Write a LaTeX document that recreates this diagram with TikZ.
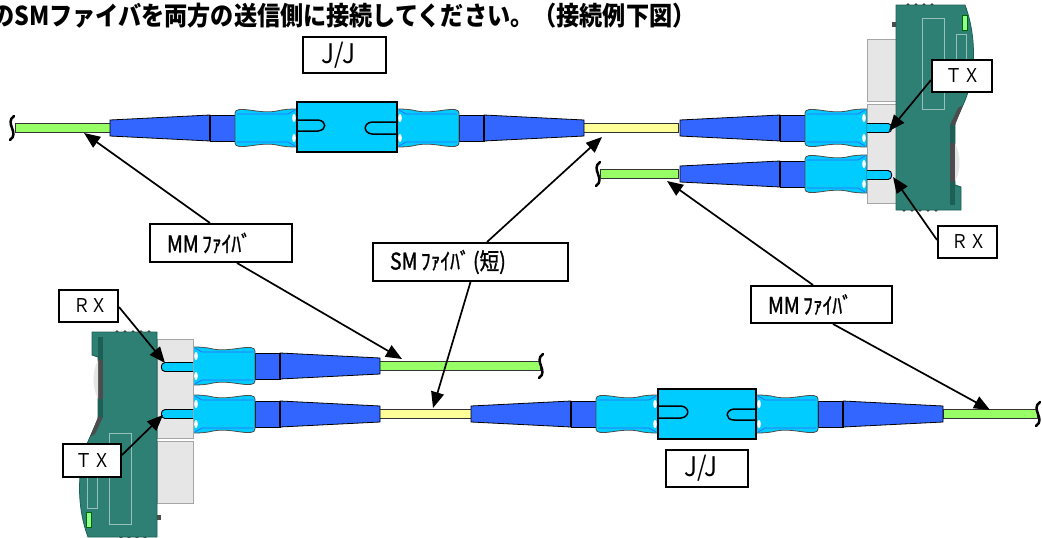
\documentclass[tikz,border=0pt]{standalone}
\usepackage{fontspec}
\usetikzlibrary{arrows.meta,calc}
\newfontfamily\jp{Noto Sans CJK JP}
\newfontfamily\jpc[FakeStretch=0.9]{Noto Sans CJK JP}
\newfontfamily\jpb[FakeStretch=0.85,FakeBold=1.2]{Noto Sans CJK JP}
\newfontfamily\jpt[FakeStretch=0.89]{Noto Sans CJK JP}
\definecolor{bootblue}{RGB}{51,102,255}
\definecolor{bodycyan}{RGB}{0,204,255}
\definecolor{fibgreen}{RGB}{153,255,102}
\definecolor{fibyellow}{RGB}{255,255,153}
\definecolor{devteal}{RGB}{45,128,115}
\definecolor{devdark}{RGB}{30,95,85}
\definecolor{greyfill}{RGB}{230,230,230}

\newcommand\plugshape{%
  \draw[thinline, fill=bootblue] (-187,-8) -- (-87,-13) -- (-87,13) -- (-187,8) -- cycle;
  \draw[thinline, fill=bootblue] (-87,-13) rectangle (-62,13);
  \draw[line width=1.1pt] (-87,-13) -- (-87,13);
  \draw[bodyoutline, fill=bodycyan] (-62,-15) .. controls (-62,-19) and (-56,-19) .. (-48,-18)
     .. controls (-40,-17) and (-30,-15) .. (-20,-17) .. controls (-12,-19) and (-5,-19) .. (0,-19)
     -- (0,19) .. controls (-5,19) and (-12,19) .. (-20,17) .. controls (-30,15) and (-40,17) .. (-48,18)
     .. controls (-56,19) and (-62,19) .. (-62,15) -- cycle;
  \draw[blueline] (-60,-14) -- (-9,-14) -- (-2,-18);
  \draw[blueline] (-60,14) -- (-9,14) -- (-2,18);
  \fill[white] (-3,-10) ellipse (1.8pt and 4pt);
  \fill[white] (-3,10) ellipse (1.8pt and 4pt);
}
\newcommand\fiber[4]{\draw[fibline,fill=#4] (#1,#3-4.5) rectangle (#2,#3+4.5);}
\newcommand\squig[2]{\draw[squigline] (#1+2,#2-12) .. controls (#1-8,#2-5) and (#1+8,#2+5) .. (#1-2,#2+12);}
\newcommand\devdraw[1]{%
  \draw[greyline, fill=greyfill] (-#1,34) rectangle (0,96);
  \draw[greyline, fill=greyfill] (-#1,99) rectangle (0,198);
  \fill[gray!60!black] (-4,17) rectangle (0,22);
  \foreach \bx in {12,20,28,36}{\fill[gray!50!black] (\bx,0) circle (1.8pt);}
  \foreach \bx in {8,16,24,32,40}{\fill[gray!50!black] (\bx,205) circle (1.8pt);}
  \draw[line width=0.8pt, draw=devdark, fill=devteal] (0,0) -- (69,0) .. controls (82,35) and (79,75) .. (67,100)
     -- (59,118) -- (59,180) -- (65,182) -- (65,205) -- (0,205) -- cycle;
  \fill[devdark] (54,120) rectangle (59,200);
  \fill[gray!60!black] (54,138) rectangle (59,177);
  \fill[gray!60!black] (54,120) -- (59,120) -- (67,100) -- (62,103) -- cycle;
  \fill[gray!20] (59,138) .. controls (65,150) and (65,165) .. (59,177) -- cycle;
  \draw[devteal!50!white, line width=0.8pt] (26,13) rectangle (48,104);
  \draw[devteal!50!white, line width=0.8pt] (60,29) rectangle (70,72);
  \draw[green!40!black, fill=green!45, line width=0.6pt] (66,10) rectangle (71,25);
  \foreach \py in {123,170}{%
    \draw[line width=0.9pt, fill=bodycyan] (-#1,\py-4.5) -- (-8,\py-4.5)
       .. controls (-3,\py-4.5) and (-3,\py+4.5) .. (-8,\py+4.5) -- (-#1,\py+4.5);
  }
}

\begin{document}
\begin{tikzpicture}[x=1pt,y=-1pt,
  thinline/.style={draw=black, line width=0.8pt},
  bodyoutline/.style={draw=gray!60!black, line width=0.8pt},
  blueline/.style={draw=bootblue, line width=0.7pt},
  fibline/.style={draw=black!80, line width=0.9pt},
  squigline/.style={draw=black, line width=2.5pt, line cap=round},
  greyline/.style={draw=gray!70, line width=0.8pt},
  lbox/.style={draw=black, line width=2pt, fill=white, inner sep=0pt},
  arr/.style={draw=black, line width=1.7pt, -{Triangle[length=16pt,width=13pt]}}]
\useasboundingbox (0,0) rectangle (1042,538);
\fill[white] (0,0) rectangle (1042,538);

% title
\node[anchor=base west, inner sep=0pt] (title) at (-9,25)
  {\jpt\bfseries\fontsize{26}{26}\selectfont のSMファイバを両方の送信側に接続してください。（接続例下図）};

% ---- top row (y=128)
\squig{12}{128}
\fiber{15}{110}{128}{fibgreen}
\fiber{583}{678}{128}{fibyellow}
\begin{scope}[shift={(297,128)}]\plugshape\end{scope}
\begin{scope}[shift={(397,128)},xscale=-1]\plugshape\end{scope}
\begin{scope}[shift={(867,128)}]\plugshape\end{scope}
\draw[line width=2pt, fill=bodycyan] (297,102) rectangle (397,152);
\draw[line width=1.5pt] (297,120) -- (318,120) .. controls (327,121) and (327,130) .. (318,131) -- (297,131);
\draw[line width=1.5pt] (397,122) -- (372,122) .. controls (363,123) and (363,133) .. (372,134) -- (397,134);

% ---- top-right lower (y=174)
\squig{598}{174}
\fiber{600}{678}{174}{fibgreen}
\begin{scope}[shift={(867,174)}]\plugshape\end{scope}

% top-right device
\begin{scope}[shift={(896,5)}]\devdraw{29}\end{scope}

% ---- bottom-left upper (y=366)
\fiber{379}{540}{366}{fibgreen}
\squig{541}{366}
\begin{scope}[shift={(193,366)},xscale=-1]\plugshape\end{scope}

% ---- bottom row (y=414)
\fiber{378}{471}{414}{fibyellow}
\fiber{943}{1037}{414}{fibgreen}
\squig{1038}{414}
\begin{scope}[shift={(193,414)},xscale=-1]\plugshape\end{scope}
\begin{scope}[shift={(658,414)}]\plugshape\end{scope}
\begin{scope}[shift={(756,414)},xscale=-1]\plugshape\end{scope}
\draw[line width=2pt, fill=bodycyan] (658,389) rectangle (756,439);
\draw[line width=1.5pt] (658,406) -- (681,406) .. controls (690,407) and (690,417) .. (681,418) -- (658,418);
\draw[line width=1.5pt] (756,409) -- (734,409) .. controls (725,410) and (725,420) .. (734,420) -- (756,420);

% bottom-left device (rotated)
\begin{scope}[shift={(157,537)},rotate=180]\devdraw{36}\end{scope}

% ---- label boxes
\node[lbox, minimum width=83pt, minimum height=36pt] (jj1) at (344.5,55)
  {\raisebox{-5pt}{\jpc\fontsize{27}{27}\selectfont J/J\hspace{12pt}}};
\node[lbox, minimum width=82pt, minimum height=37pt] (jj2) at (707,468.5)
  {\raisebox{-4pt}{\jpc\fontsize{27}{27}\selectfont J/J\hspace{12pt}}};
\node[lbox, minimum width=60pt, minimum height=32pt] (tx1) at (962,76)
  {\raisebox{-5pt}{\jpc\fontsize{19}{19}\selectfont ＴＸ\hspace{-2pt}}};
\node[lbox, minimum width=59pt, minimum height=32pt] (rx1) at (967.5,242)
  {\raisebox{-5pt}{\jpc\fontsize{19}{19}\selectfont \hspace{3pt}ＲＸ}};
\node[lbox, minimum width=59pt, minimum height=32pt] (rx2) at (88.5,306)
  {\raisebox{-5pt}{\jpc\fontsize{19}{19}\selectfont \hspace{5pt}ＲＸ}};
\node[lbox, minimum width=58pt, minimum height=33pt] (tx2) at (92,460.5)
  {\raisebox{-5pt}{\jpc\fontsize{19}{19}\selectfont \hspace{2pt}ＴＸ}};
\node[lbox, minimum width=142pt, minimum height=38pt, inner xsep=17pt, text width=108pt, align=left] (mmL) at (221,243)
  {\raisebox{-3pt}{\jpb\fontsize{23}{23}\selectfont MM ﾌｧｲﾊﾞ}};
\node[lbox, minimum width=195pt, minimum height=38pt, inner xsep=17pt, text width=161pt, align=left] (sm) at (470.5,262)
  {\raisebox{-3pt}{\jpb\fontsize{23}{23}\selectfont SM ﾌｧｲﾊﾞ (短)}};
\node[lbox, minimum width=141pt, minimum height=37pt, inner xsep=17pt, text width=107pt, align=left] (mmR) at (821.5,304.5)
  {\raisebox{-3pt}{\jpb\fontsize{23}{23}\selectfont MM ﾌｧｲﾊﾞ}};

% ---- arrow targets
\coordinate (tA) at (84,133);
\coordinate (tB) at (402,359);
\coordinate (tC) at (602,137);
\coordinate (tD) at (433,408);
\coordinate (tE) at (667,181);
\coordinate (tF) at (990,410);
\coordinate (tTX1) at (889,131);
\coordinate (tRX1) at (893,177);
\coordinate (tRX2) at (165,363);
\coordinate (tTX2) at (163,415);

\draw[arr] ($(mmL.north)+(-11,0)$) -- (tA);
\draw[arr] ($(mmL.south)+(16,0)$) -- (tB);
\draw[arr] ($(sm.north)+(16.5,0)$) -- (tC);
\draw[arr] (sm.south) -- (tD);
\draw[arr] ($(mmR.north)+(-8.5,0)$) -- (tE);
\draw[arr] ($(mmR.south)+(11.5,0)$) -- (tF);
\draw[arr] ($(tx1.west)+(0,4)$) -- (tTX1);
\draw[arr] ($(rx1.west)+(0,-2)$) -- (tRX1);
\draw[arr] ($(rx2.east)+(0,1)$) -- (tRX2);
\draw[arr] ($(tx2.east)+(0,-5.5)$) -- (tTX2);
\end{tikzpicture}
\end{document}
